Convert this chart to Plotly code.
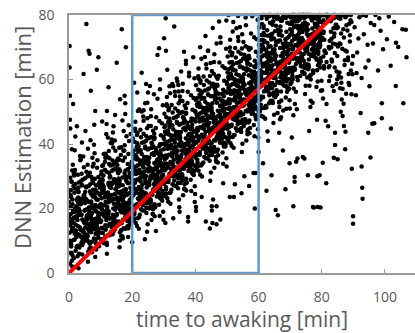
import plotly.graph_objects as go

# ---- axis ticks ----
x_ticks = [0, 20, 40, 60, 80, 100]
y_ticks = [0, 20, 40, 60, 80]

# ---- reference line (DNN estimation == time) ----
fit_x = [0, 84]
fit_y = [0, 80]

# ---- highlighted interval ----
box_x = [20, 60]
box_y = [0, 80]

# ---- scatter samples, first pass, read bin by bin (time 0-5, 5-10, ...) ----
x_a = [0.2,0.5,0.8,1.1,0.3,1.6,2.0,2.4,0.9,3.1,3.5,4.2,4.8,0.4,1.3,2.7,3.9,4.5,1.8,0.6,
       2.2,3.3,4.0,0.1,1.0,2.9,4.6,3.7,1.5,0.7,2.5,4.9,3.0,1.9,0.2,4.3,2.1,3.6,0.9,1.4,
       2.8,4.1,0.5,1.7,3.4,4.7,2.3,0.3,1.2,3.8,2.6,4.4,0.8,1.9,3.2,4.9,0.1,2.0,3.0,4.5,
       1.1,3.5,2.7,4.0,0.6,1.6,3.1,4.2,2.4,0.4]
y_a = [12.5,18.2,6.3,22.8,9.1,15.4,27.6,11.2,3.8,19.9,14.1,8.7,24.3,29.5,16.8,5.2,21.6,13.3,10.4,25.7,
       17.5,7.9,30.8,20.2,13.9,23.4,16.1,35.2,4.6,8.2,12.0,19.3,26.5,31.9,15.7,10.8,6.9,22.1,38.4,18.9,
       14.6,27.1,9.8,24.9,11.7,15.9,20.7,2.9,33.6,18.0,8.4,22.9,28.3,13.0,6.0,12.4,17.1,42.3,25.2,36.1,
       21.3,13.6,16.4,9.5,23.8,30.2,19.0,5.7,11.5,44.8]

x_b = [5.2,5.8,6.3,7.1,7.7,8.4,9.0,9.6,5.5,6.9,8.0,9.3,5.1,6.1,7.4,8.8,9.8,5.9,7.0,8.2,
       9.4,6.6,7.9,5.3,8.6,6.0,9.1,7.3,5.7,8.9,6.4,9.7,7.6,5.0,8.3,6.8,9.2,7.8,5.4,8.5,
       6.2,9.9,7.2,5.6,8.1,6.7,9.5,7.5,5.9,8.7,6.5,9.0,7.0,8.3,5.2,6.0,9.3,7.7,8.9,6.3,
       7.4,5.8,8.4,9.6,6.9,7.9,5.1,9.2,8.0,6.6]
y_b = [14.2,22.5,9.6,18.3,27.9,12.1,20.6,16.3,31.4,7.8,24.1,11.0,19.5,15.1,35.7,8.9,26.4,13.7,21.8,29.2,
       18.6,25.3,10.7,23.0,16.9,38.5,22.7,6.4,17.8,32.6,12.9,28.4,20.1,10.1,14.8,41.2,13.5,33.9,26.8,9.2,
       19.7,24.6,15.6,11.8,37.1,27.5,8.3,23.7,30.0,19.0,17.2,35.0,12.6,21.1,44.0,9.9,29.8,16.0,14.0,22.0,
       28.7,16.6,25.9,20.9,13.2,39.8,25.1,11.9,46.0,31.1]

x_c = [10.2,10.8,11.5,12.1,12.9,13.4,14.2,14.8,10.5,11.9,13.0,14.5,10.1,11.2,12.6,13.8,14.9,11.7,12.3,13.6,
       14.0,10.7,12.8,11.0,14.6,13.2,10.3,12.0,14.3,11.4,13.5,10.9,12.5,14.1,11.8,13.9,10.4,12.2,14.7,11.1,
       13.1,10.6,12.4,14.4,11.6,13.7,10.0,12.7,14.0,11.3,13.3,10.8,12.9,14.8,11.9,13.0,10.2,12.1,14.2,11.5,
       12.6,10.3,13.6,14.9,11.0,12.3,13.8,10.9,14.5,12.8]
y_c = [16.2,24.8,11.3,20.5,29.6,14.7,22.9,18.1,33.2,9.4,26.6,13.8,21.4,17.5,37.8,12.0,28.3,19.2,23.5,31.7,
       20.0,27.4,15.3,25.9,19.6,40.3,23.2,8.7,16.7,34.5,14.1,30.2,21.9,12.9,17.4,43.6,19.8,35.9,26.0,10.6,
       22.3,28.9,18.4,24.4,13.4,27.7,15.8,33.8,38.9,21.0,17.0,25.1,11.7,32.4,46.2,24.0,20.8,14.5,29.1,37.0,
       19.1,31.5,22.6,16.0,26.7,42.0,34.9,18.8,41.1,28.0]

x_d = [15.2,15.8,16.5,17.1,17.9,18.4,19.2,19.8,15.5,16.9,18.0,19.5,15.1,16.2,17.6,18.8,19.9,16.7,17.3,18.6,
       19.0,15.7,17.8,16.0,19.6,18.2,15.3,17.0,19.3,16.4,18.5,15.9,17.5,19.1,16.8,18.9,15.4,17.2,19.7,16.1,
       18.1,15.6,17.4,19.4,16.6,18.7,15.0,17.7,19.0,16.3,18.3,15.8,17.9,19.8,16.9,18.0,15.2,17.1,19.2,16.5,
       17.6,15.3,18.6,19.9,16.0,17.3,18.8,15.9,19.5,17.8]
y_d = [18.3,26.9,13.2,22.4,31.8,16.6,24.7,20.1,35.5,11.4,28.8,15.9,23.5,19.5,39.6,13.9,30.4,21.2,25.6,33.8,
       22.0,29.3,17.3,27.9,21.6,42.4,25.2,10.7,18.7,36.6,16.1,32.2,23.9,14.9,19.4,45.8,21.8,37.9,28.0,12.6,
       24.3,30.9,20.4,26.4,15.4,29.7,17.8,35.8,40.9,23.0,19.0,27.1,13.7,34.4,47.3,26.0,22.8,16.5,31.1,39.0,
       21.1,33.5,24.6,18.0,28.7,44.0,36.9,20.8,43.1,30.0]

x_e = [20.3,20.9,21.4,22.2,22.8,23.5,24.1,24.9,20.6,21.8,23.1,24.4,20.1,21.3,22.5,23.9,24.7,21.6,22.4,23.7,
       24.0,20.7,22.9,21.0,24.6,23.2,20.4,22.0,24.3,21.5,23.6,20.8,22.6,24.1,21.9,23.8,20.5,22.3,24.8,21.2,
       23.1,20.2,22.7,24.5,21.7,23.4,20.0,22.1,24.2,21.1,23.3,20.8,22.9,24.9,21.4,23.0,20.3,22.4,24.6,21.8,
       22.6,20.5,23.6,24.8,21.0,22.3,23.8,20.9,24.4,22.8]
y_e = [27.3,20.9,35.2,17.4,30.8,24.6,38.7,15.1,28.8,33.4,22.2,42.5,19.9,36.1,25.9,31.4,12.8,40.2,23.6,29.9,
       34.0,18.3,26.3,46.9,21.6,27.4,16.2,39.3,24.7,14.6,32.7,26.1,44.4,29.0,37.6,19.4,31.8,22.5,48.0,33.0,
       25.3,41.8,28.4,18.6,35.4,21.0,30.6,13.7,27.8,36.5,23.1,16.9,31.2,38.3,20.5,50.1,24.0,34.8,26.5,17.0,
       29.5,38.0,43.2,32.2,26.0,22.9,36.0,44.7,30.0,19.8]

x_f = [25.2,25.9,26.4,27.1,27.8,28.5,29.1,29.8,25.6,26.8,28.0,29.4,25.1,26.3,27.5,28.8,29.9,26.6,27.3,28.6,
       29.0,25.7,27.9,26.0,29.6,28.2,25.3,27.0,29.3,26.5,28.6,25.8,27.6,29.2,26.9,28.9,25.4,27.2,29.7,26.2,
       28.1,25.2,27.7,29.5,26.7,28.4,25.0,27.1,29.2,26.1,28.3,25.8,27.9,29.9,26.4,28.0,25.3,27.4,29.6,26.8,
       27.6,25.5,28.6,29.8,26.0,27.3,28.8,25.9,29.4,27.8]
y_f = [31.5,24.6,39.1,21.3,34.8,28.2,42.7,19.0,32.6,37.2,26.1,46.4,23.7,40.0,29.8,35.3,16.5,44.1,27.4,33.7,
       38.0,22.0,30.2,50.8,25.4,31.3,20.0,43.2,28.6,18.3,36.6,30.0,48.3,33.0,41.5,23.2,35.7,26.3,52.0,36.9,
       29.2,45.6,32.3,22.4,39.2,24.9,34.5,17.6,31.7,40.4,27.0,20.7,35.1,42.2,24.3,54.0,27.9,38.7,30.4,20.9,
       33.4,41.9,47.1,36.1,29.9,26.8,39.9,48.6,34.0,23.7]

x_g = [30.3,30.8,31.5,32.2,32.9,33.4,34.2,34.8,30.6,31.9,33.0,34.5,30.1,31.2,32.6,33.8,34.9,31.7,32.3,33.6,
       34.1,30.7,32.8,31.0,34.6,33.2,30.4,32.0,34.3,31.4,33.5,30.9,32.5,34.0,31.8,33.9,30.5,32.2,34.7,31.1,
       33.1,30.2,32.7,34.5,31.6,33.3,30.0,32.1,34.2,31.3,33.7,30.8,32.9,34.9,31.5,33.0,30.3,32.4,34.4,31.9,
       32.6,30.5,33.6,34.8,31.0,32.3,33.8,30.9,34.4,32.8]
y_g = [35.2,28.4,43.0,25.1,38.6,32.0,46.5,22.8,36.4,41.0,29.9,50.2,27.6,43.8,33.7,39.1,20.4,47.9,31.2,37.5,
       41.8,25.9,34.0,54.6,29.3,35.1,23.8,47.0,32.5,22.1,40.4,33.9,52.1,36.8,45.3,27.0,39.6,30.1,56.3,40.7,
       33.0,49.4,36.1,26.3,43.0,28.7,38.4,21.5,35.5,44.2,30.8,24.6,38.9,46.0,28.2,58.0,31.8,42.5,34.3,24.8,
       37.2,45.7,51.0,39.9,33.7,30.6,43.8,52.3,37.9,27.5]

x_h = [35.2,35.9,36.4,37.1,37.8,38.5,39.1,39.8,35.6,36.8,38.0,39.4,35.1,36.3,37.5,38.8,39.9,36.6,37.3,38.6,
       39.0,35.7,37.9,36.0,39.6,38.2,35.3,37.0,39.3,36.5,38.6,35.8,37.6,39.2,36.9,38.9,35.4,37.2,39.7,36.2,
       38.1,35.2,37.7,39.5,36.7,38.4,35.0,37.1,39.2,36.1,38.3,35.8,37.9,39.9,36.4,38.0,35.3,37.4,39.6,36.8,
       37.6,35.5,38.6,39.8,36.0,37.3,38.8,35.9,39.4,37.8]
y_h = [39.3,32.5,47.0,29.2,42.7,36.0,50.6,26.9,40.5,45.1,34.0,54.3,31.7,47.9,37.8,43.2,24.5,51.9,35.3,41.6,
       45.9,30.0,38.1,58.7,33.4,39.2,27.9,51.1,36.6,26.2,44.5,38.0,56.2,40.9,49.4,31.1,43.7,34.2,60.4,44.8,
       37.1,53.5,40.2,30.4,47.1,32.8,42.5,25.6,39.6,48.3,34.9,28.7,43.0,50.1,32.3,62.1,35.9,46.6,38.4,28.9,
       41.3,49.8,55.1,44.0,37.8,34.7,47.9,56.4,42.0,31.6]

x_i = [40.3,40.9,41.4,42.2,42.8,43.5,44.1,44.9,40.6,41.8,43.1,44.4,40.1,41.3,42.5,43.9,44.7,41.6,42.4,43.7,
       44.0,40.7,42.9,41.0,44.6,43.2,40.4,42.0,44.3,41.5,43.6,40.8,42.6,44.1,41.9,43.8,40.5,42.3,44.8,41.2,
       43.1,40.2,42.7,44.5,41.7,43.4,40.0,42.1,44.2,41.1,43.3,40.8,42.9,44.9,41.4,43.0,40.3,42.4,44.6,41.8,
       42.6,40.5,43.6,44.8,41.0,42.3,43.8,40.9,44.4,42.8]
y_i = [43.6,36.8,51.5,33.9,47.4,40.3,55.2,31.2,45.0,49.7,38.3,59.1,35.8,52.4,42.1,47.8,28.6,56.5,39.7,46.0,
       50.4,34.3,42.6,63.4,37.7,43.7,32.2,55.8,41.0,30.5,49.0,42.4,60.9,45.3,54.0,35.5,48.2,38.6,65.1,49.3,
       41.5,58.2,44.7,34.8,51.6,37.2,47.0,29.9,44.1,52.9,39.3,33.1,47.5,54.8,36.7,67.0,40.4,51.2,42.8,33.3,
       45.8,54.3,59.7,48.6,42.2,39.1,52.4,61.0,46.5,36.0]

x_j = [45.2,45.9,46.4,47.1,47.8,48.5,49.1,49.8,45.6,46.8,48.0,49.4,45.1,46.3,47.5,48.8,49.9,46.6,47.3,48.6,
       49.0,45.7,47.9,46.0,49.6,48.2,45.3,47.0,49.3,46.5,48.6,45.8,47.6,49.2,46.9,48.9,45.4,47.2,49.7,46.2,
       48.1,45.2,47.7,49.5,46.7,48.4,45.0,47.1,49.2,46.1,48.3,45.8,47.9,49.9,46.4,48.0,45.3,47.4,49.6,46.8,
       47.6,45.5,48.6,49.8,46.0,47.3,48.8,45.9,49.4,47.8]
y_j = [48.1,41.2,55.9,38.3,51.8,44.7,59.6,35.6,49.4,54.1,42.7,63.5,40.2,56.8,46.5,52.2,33.0,60.9,44.1,50.4,
       54.8,38.7,47.0,67.8,42.1,48.1,36.6,60.2,45.4,34.9,53.4,46.8,65.3,49.7,58.4,39.9,52.6,43.0,69.5,53.7,
       45.9,62.6,49.1,39.2,56.0,41.6,51.4,34.3,48.5,57.3,43.7,37.5,51.9,59.2,41.1,71.4,44.8,55.6,47.2,37.7,
       50.2,58.7,64.1,53.0,46.6,43.5,56.8,65.4,50.9,40.4]

x_k = [50.3,50.9,51.4,52.2,52.8,53.5,54.1,54.9,50.6,51.8,53.1,54.4,50.1,51.3,52.5,53.9,54.7,51.6,52.4,53.7,
       54.0,50.7,52.9,51.0,54.6,53.2,50.4,52.0,54.3,51.5,53.6,50.8,52.6,54.1,51.9,53.8,50.5,52.3,54.8,51.2,
       53.1,50.2,52.7,54.5,51.7,53.4,50.0,52.1,54.2,51.1,53.3,50.8,52.9,54.9,51.4,53.0,50.3,52.4,54.6,51.8,
       52.6,50.5,53.6,54.8,51.0,52.3,53.8,50.9,54.4,52.8]
y_k = [52.6,45.7,60.4,42.8,56.3,49.2,64.1,40.1,53.9,58.6,47.2,68.0,44.7,61.3,51.0,56.7,37.5,65.4,48.6,54.9,
       59.3,43.2,51.5,72.3,46.6,52.6,41.1,64.7,49.9,39.4,57.9,51.3,69.8,54.2,62.9,44.4,57.1,47.5,74.0,58.2,
       50.4,67.1,53.6,43.7,60.5,46.1,55.9,38.8,53.0,61.8,48.2,42.0,56.4,63.7,45.6,75.9,49.3,60.1,51.7,42.2,
       54.7,63.2,68.6,57.5,51.1,48.0,61.3,69.9,55.4,44.9]

x_l = [55.2,55.9,56.4,57.1,57.8,58.5,59.1,59.8,55.6,56.8,58.0,59.4,55.1,56.3,57.5,58.8,59.9,56.6,57.3,58.6,
       59.0,55.7,57.9,56.0,59.6,58.2,55.3,57.0,59.3,56.5,58.6,55.8,57.6,59.2,56.9,58.9,55.4,57.2,59.7,56.2,
       58.1,55.2,57.7,59.5,56.7,58.4,55.0,57.1,59.2,56.1,58.3,55.8,57.9,59.9,56.4,58.0,55.3,57.4,59.6,56.8,
       57.6,55.5,58.6,59.8,56.0,57.3,58.8,55.9,59.4,57.8]
y_l = [57.1,50.2,64.9,47.3,60.8,53.7,68.6,44.6,58.4,63.1,51.7,72.5,49.2,65.8,55.5,61.2,42.0,69.9,53.1,59.4,
       63.8,47.7,56.0,76.8,51.1,57.1,45.6,69.2,54.4,43.9,62.4,55.8,74.3,58.7,67.4,48.9,61.6,52.0,78.5,62.7,
       54.9,71.6,58.1,48.2,65.0,50.6,60.4,43.3,57.5,66.3,52.7,46.5,60.9,68.2,50.1,79.6,53.8,64.6,56.2,46.7,
       59.2,67.7,73.1,62.0,55.6,52.5,65.8,79.2,59.9,49.4]

x_m = [60.3,60.9,61.4,62.2,62.8,63.5,64.1,64.9,60.6,61.8,63.1,64.4,60.1,61.3,62.5,63.9,64.7,61.6,62.4,63.7,
       64.0,60.7,62.9,61.0,64.6,63.2,60.4,62.0,64.3,61.5,63.6,60.8,62.6,64.1,61.9,63.8,60.5,62.3,64.8,61.2,
       63.1,60.2,62.7,64.5,61.7,63.4,60.0,62.1,64.2,61.1,63.3,60.8,62.9,64.9,61.4,63.0,60.3,62.4,64.6,61.8,
       62.6,60.5,63.6,64.8,61.0,62.3,63.8,60.9,64.4,62.8]
y_m = [61.6,54.7,69.4,51.8,65.3,58.2,73.1,49.1,62.9,67.6,56.2,77.0,53.7,70.3,60.0,65.7,46.5,74.4,57.6,63.9,
       68.3,52.2,60.5,80.0,55.6,61.6,50.1,73.7,58.9,48.4,66.9,60.3,78.8,63.2,71.9,53.4,66.1,56.5,79.4,67.2,
       59.4,76.1,62.6,52.7,69.5,55.1,64.9,47.8,62.0,70.8,57.2,51.0,65.4,72.7,54.6,80.0,58.3,69.1,60.7,51.2,
       63.7,72.2,77.6,66.5,60.1,57.0,70.3,79.0,64.4,43.9]

x_n = [65.2,65.9,66.4,67.1,67.8,68.5,69.1,69.8,65.6,66.8,68.0,69.4,65.1,66.3,67.5,68.8,69.9,66.6,67.3,68.6,
       69.0,65.7,67.9,66.0,69.6,68.2,65.3,67.0,69.3,66.5,68.6,65.8,67.6,69.2,66.9,68.9,65.4,67.2,69.7,66.2,
       68.1,65.2,67.7,69.5,66.7,68.4,65.0,67.1,69.2,66.1,68.3,65.8,67.9,69.9,66.4,68.0,65.3,67.4,69.6,66.8,
       67.6,65.5,68.6,69.8,66.0,67.3,68.8,65.9,69.4,67.8]
y_n = [66.1,59.2,73.9,56.3,69.8,62.7,77.6,53.6,67.4,72.1,60.7,79.7,58.2,74.8,64.5,70.2,51.0,78.9,62.1,68.4,
       72.8,56.7,65.0,80.0,60.1,66.1,54.6,78.2,63.4,52.9,71.4,64.8,79.3,67.7,76.4,57.9,70.6,61.0,80.0,71.7,
       63.9,79.6,67.1,57.2,74.0,59.6,69.4,48.3,66.5,75.3,61.7,55.5,69.9,77.2,59.1,80.0,62.8,73.6,65.2,47.7,
       68.2,76.7,79.1,71.0,64.6,61.5,74.8,80.0,68.9,50.4]

x_o = [70.3,70.9,71.4,72.2,72.8,73.5,74.1,74.9,70.6,71.8,73.1,74.4,70.1,71.3,72.5,73.9,74.7,71.6,72.4,73.7,
       74.0,70.7,72.9,71.0,74.6,73.2,70.4,72.0,74.3,71.5,73.6,70.8,72.6,74.1,71.9,73.8,70.5,72.3,74.8,71.2,
       73.1,70.2,72.7,74.5,71.7,73.4,70.0,72.1,74.2,71.1,73.3,70.8,72.9,74.9,71.4,73.0,70.3,72.4,74.6,71.8,
       72.6,70.5,73.6,74.8,71.0]
y_o = [70.6,63.7,78.4,60.8,74.3,67.2,79.6,58.1,71.9,76.6,65.2,80.0,62.7,79.3,69.0,74.7,55.5,78.0,66.6,72.9,
       77.3,61.2,69.5,80.0,64.6,70.6,59.1,79.8,67.9,52.4,75.9,69.3,80.0,72.2,79.0,62.4,75.1,65.5,79.5,76.2,
       68.4,79.9,71.6,61.7,78.5,64.1,73.9,50.8,71.0,79.1,66.2,60.0,74.4,79.4,63.6,80.0,67.3,78.1,69.7,56.2,
       72.7,80.0,79.6,75.5,48.9]

x_p = [75.3,75.9,76.4,77.2,77.8,78.5,79.1,79.9,75.6,76.8,78.1,79.4,75.1,76.3,77.5,78.9,79.7,76.6,77.4,78.7,
       79.0,75.7,77.9,76.0,79.6,78.2,75.4,77.0,79.3,76.5,78.6,75.8,77.6,79.2,76.9,78.8,75.5,77.3,79.8,76.2,
       78.1,75.2,77.7,79.5,76.7,78.4,75.0,77.1,79.2,76.1,78.3,75.8,77.9,79.9,76.4]
y_p = [74.1,66.2,79.8,62.8,77.3,70.7,80.0,59.6,75.4,79.1,68.2,80.0,64.7,79.6,71.5,77.7,56.5,80.0,69.1,75.9,
       78.8,63.2,72.5,80.0,66.6,73.6,60.6,79.3,69.9,53.4,77.4,71.3,80.0,74.2,79.5,64.4,77.1,67.5,79.9,61.1,
       70.4,80.0,74.6,63.7,79.0,66.1,76.9,52.8,73.0,79.7,57.7,68.0,76.4,80.0,51.5]

x_q = [80.3,80.9,81.4,82.2,82.8,83.5,84.1,84.9,80.6,81.8,83.1,84.4,80.1,81.3,82.5,83.9,84.7,81.6,82.4,83.7,
       84.0,80.7,82.9,81.0,84.6,83.2,80.4,82.0,84.3,81.5,83.6,80.8,82.6,84.1,81.9,83.8,80.5,82.3,84.8,81.2]
y_q = [77.6,68.7,80.0,63.8,79.3,71.2,80.0,60.1,74.9,79.6,66.2,77.0,56.7,80.0,72.0,79.7,62.5,80.0,69.6,75.9,
       74.3,64.2,78.5,80.0,58.6,65.6,54.1,79.8,70.9,52.4,80.0,72.3,61.0,68.2,79.0,56.4,67.1,59.5,79.5,47.2]

x_r = [85.3,85.9,86.4,87.2,87.8,88.5,89.1,89.9,85.6,86.8,88.1,89.4,85.1,86.3,87.5,88.9,89.7,86.6,87.4,88.7,
       85.8,87.0,88.3,89.2,86.1]
y_r = [79.1,71.0,80.0,64.5,76.8,58.9,78.4,67.3,62.2,75.6,80.0,55.4,70.2,53.8,79.5,73.7,61.6,48.7,69.0,77.3,
       57.3,45.6,66.0,80.0,74.3]

x_s = [90.4,91.2,91.9,92.6,93.3,94.0,94.8,95.5,96.2,97.0,97.8,98.6,99.4,90.8,91.6,92.3,93.8,95.1,96.6,98.2,
       99.0,93.0,94.5,96.0,91.0]
y_s = [76.2,68.4,79.3,60.5,74.0,79.8,65.9,77.5,71.2,80.0,62.8,75.1,69.4,55.1,72.7,49.6,63.7,57.9,76.9,79.0,
       52.6,80.0,70.8,46.3,62.0]

x_t = [100.6,101.8,102.9,104.2,105.5,103.4,106.8,101.2]
y_t = [72.5,64.3,77.8,70.1,75.6,58.0,66.9,79.5]

# ---- scatter samples, second pass over the dense band (time 0-10, 10-20, ...) ----
x_b1 = [0.4,3.7,7.2,1.9,5.5,9.1,2.8,6.4,8.6,4.6, 1.2,4.9,8.1,0.7,6.8,3.1,9.6,2.2,5.9,7.7,
        2.5,6.1,9.3,0.2,4.3,7.9,1.5,5.1,8.9,3.4, 0.9,4.1,7.5,2.9,6.6,9.8,1.7,5.3,8.3,3.9,
        3.0,6.9,0.5,8.5,4.7,1.3,7.0,9.4,2.4,5.7, 1.8,5.0,8.8,3.6,7.4,0.0,6.2,9.0,2.6,4.4,
        7.8,2.1,5.6,9.7,0.8,4.0,6.5,3.3,8.0,1.1, 4.8,8.4,1.6,6.0,9.2,2.7,5.4,0.3,7.3,3.8,
        6.7,0.6,3.5,9.5,2.3,7.6,4.5,8.7,1.4,5.8, 9.9,3.2,6.3,1.0,8.2,4.2,7.1,0.1,5.2,2.0,
        5.4,8.9,2.9,7.0,0.4,4.7,9.3,1.8,6.6,3.6, 0.7,6.9,3.9,8.0,2.2,5.1,9.7,1.2,7.5,4.9,
        3.1,8.6,0.9,5.9,2.5,9.0,4.1,7.2,1.5,6.3]
y_b1 = [14.8,21.3,9.7,26.2,17.1,12.4,30.5,19.6,7.3,23.9, 18.9,11.6,24.7,8.8,15.3,28.1,20.4,13.2,33.6,16.7,
        22.6,6.7,17.9,25.5,12.9,20.8,10.2,29.4,14.1,19.2, 16.0,27.3,13.7,21.9,9.1,18.3,31.2,15.6,23.4,11.1,
        25.1,17.4,20.7,10.4,32.8,13.9,22.2,27.7,8.0,19.8, 12.2,23.1,16.4,35.0,14.6,22.0,26.9,12.8,17.6,29.0,
        20.1,15.0,10.9,24.3,28.4,18.1,7.6,21.4,15.9,5.4, 24.0,19.4,17.2,30.1,11.9,26.0,16.2,10.0,18.7,13.3,
        14.3,23.6,36.3,16.9,20.0,25.8,9.4,22.8,27.0,11.7, 21.0,8.5,18.4,31.8,13.5,16.6,29.8,6.2,22.4,19.0,
        26.5,15.2,12.0,20.5,24.2,10.7,17.7,38.1,14.0,23.0, 9.9,24.6,28.6,14.9,17.0,21.7,12.6,19.9,33.0,15.5,
        18.0,27.2,13.0,11.4,22.9,25.0,40.5,16.1,30.7,20.3]

x_b2 = [10.5,13.8,17.3,11.9,15.6,19.2,12.8,16.5,18.7,14.6, 11.2,14.9,18.1,10.7,16.8,13.1,19.6,12.2,15.9,17.7,
        12.5,16.1,19.3,10.2,14.3,17.9,11.5,15.1,18.9,13.4, 10.9,14.1,17.5,12.9,16.6,19.8,11.7,15.3,18.3,13.9,
        13.0,16.9,10.5,18.5,14.7,11.3,17.0,19.4,12.4,15.7, 11.8,15.0,18.8,13.6,17.4,10.0,16.2,19.0,12.6,14.4,
        17.8,12.1,15.6,19.7,10.8,14.0,16.5,13.3,18.0,11.1, 14.8,18.4,11.6,16.0,19.2,12.7,15.4,10.3,17.3,13.8,
        16.7,10.6,13.5,19.5,12.3,17.6,14.5,18.7,11.4,15.8, 19.9,13.2,16.3,11.0,18.2,14.2,17.1,10.1,15.2,12.0,
        15.4,18.9,12.9,17.0,10.4,14.7,19.3,11.8,16.6,13.6, 10.7,16.9,13.9,18.0,12.2,15.1,19.7,11.2,17.5,14.9,
        13.1,18.6,10.9,15.9,12.5,19.0,14.1,17.2,11.5,16.3]
y_b2 = [19.7,27.8,13.9,31.4,22.1,16.8,35.6,24.4,11.2,28.9, 23.5,15.9,29.8,12.4,20.6,33.3,25.1,17.9,38.8,21.8,
        27.4,10.1,22.7,30.6,17.2,25.9,14.8,34.7,19.0,24.2, 21.0,32.1,18.5,26.8,13.3,23.3,36.4,20.3,28.3,15.7,
        30.0,22.4,25.6,14.5,37.9,18.6,27.2,32.9,11.8,24.9, 16.4,28.0,21.2,40.2,19.4,26.9,31.7,17.3,22.6,34.1,
        25.0,19.8,15.0,29.2,33.5,23.0,11.5,26.4,20.8,9.2, 28.8,24.3,22.1,35.1,16.2,31.0,21.3,14.0,23.6,18.1,
        19.1,28.6,41.4,21.9,25.0,30.9,13.6,27.8,32.0,16.0, 25.9,12.6,23.4,36.9,18.0,21.5,34.8,10.5,27.3,24.0,
        31.5,20.0,16.9,25.4,29.1,14.9,22.6,43.1,18.8,28.0, 13.8,29.6,33.6,19.7,21.9,26.6,17.0,24.8,38.0,20.4,
        22.9,32.2,17.8,15.3,27.9,30.0,45.5,21.1,35.7,25.2]

x_b3 = [20.5,23.8,27.3,21.9,25.6,29.2,22.8,26.5,28.7,24.6, 21.2,24.9,28.1,20.7,26.8,23.1,29.6,22.2,25.9,27.7,
        22.5,26.1,29.3,20.2,24.3,27.9,21.5,25.1,28.9,23.4, 20.9,24.1,27.5,22.9,26.6,29.8,21.7,25.3,28.3,23.9,
        23.0,26.9,20.5,28.5,24.7,21.3,27.0,29.4,22.4,25.7, 21.8,25.0,28.8,23.6,27.4,20.0,26.2,29.0,22.6,24.4,
        27.8,22.1,25.6,29.7,20.8,24.0,26.5,23.3,28.0,21.1, 24.8,28.4,21.6,26.0,29.2,22.7,25.4,20.3,27.3,23.8,
        26.7,20.6,23.5,29.5,22.3,27.6,24.5,28.7,21.4,25.8, 29.9,23.2,26.3,21.0,28.2,24.2,27.1,20.1,25.2,22.0,
        25.4,28.9,22.9,27.0,20.4,24.7,29.3,21.8,26.6,23.6, 20.7,26.9,23.9,28.0,22.2,25.1,29.7,21.2,27.5,24.9,
        23.1,28.6,20.9,25.9,22.5,29.0,24.1,27.2,21.5,26.3]
y_b3 = [26.2,34.9,20.4,38.3,29.0,23.6,42.1,31.5,17.7,36.0, 30.7,22.8,37.1,18.9,27.5,40.4,32.3,24.6,45.6,28.7,
        34.2,16.4,29.9,37.5,24.1,33.0,21.3,41.8,26.2,31.1, 28.0,39.2,25.4,33.7,19.8,30.4,43.5,27.2,35.4,22.3,
        36.9,29.3,32.8,21.2,44.9,25.5,34.1,40.0,18.1,31.8, 23.1,35.0,28.3,47.2,26.4,33.9,38.8,24.2,29.5,41.0,
        32.0,26.7,21.9,36.2,40.6,30.1,18.3,33.3,27.7,15.5, 35.8,31.2,29.0,42.2,23.0,38.1,28.2,20.7,30.5,25.0,
        26.0,35.5,48.5,28.9,32.0,37.9,20.2,34.7,39.1,22.9, 33.0,19.4,30.4,44.0,24.9,28.4,41.9,16.9,34.3,31.0,
        38.6,27.0,23.8,32.4,36.1,21.8,29.6,50.2,25.7,35.0, 20.6,36.6,40.7,26.6,28.8,33.6,23.9,31.8,45.0,27.3,
        29.9,39.3,24.7,22.2,34.9,37.0,52.6,28.0,42.8,32.1]

x_b4 = [30.5,33.8,37.3,31.9,35.6,39.2,32.8,36.5,38.7,34.6, 31.2,34.9,38.1,30.7,36.8,33.1,39.6,32.2,35.9,37.7,
        32.5,36.1,39.3,30.2,34.3,37.9,31.5,35.1,38.9,33.4, 30.9,34.1,37.5,32.9,36.6,39.8,31.7,35.3,38.3,33.9,
        33.0,36.9,30.5,38.5,34.7,31.3,37.0,39.4,32.4,35.7, 31.8,35.0,38.8,33.6,37.4,30.0,36.2,39.0,32.6,34.4,
        37.8,32.1,35.6,39.7,30.8,34.0,36.5,33.3,38.0,31.1, 34.8,38.4,31.6,36.0,39.2,32.7,35.4,30.3,37.3,33.8,
        36.7,30.6,33.5,39.5,32.3,37.6,34.5,38.7,31.4,35.8, 39.9,33.2,36.3,31.0,38.2,34.2,37.1,30.1,35.2,32.0,
        35.4,38.9,32.9,37.0,30.4,34.7,39.3,31.8,36.6,33.6, 30.7,36.9,33.9,38.0,32.2,35.1,39.7,31.2,37.5,34.9,
        33.1,38.6,30.9,35.9,32.5,39.0,34.1,37.2,31.5,36.3]
y_b4 = [33.9,42.6,28.0,46.1,36.7,31.3,49.8,39.2,25.4,43.7, 38.5,30.5,44.9,26.6,35.2,48.1,40.0,32.3,53.3,36.4,
        41.9,24.1,37.6,45.2,31.8,40.7,29.0,49.5,33.9,38.8, 35.7,46.9,33.1,41.4,27.5,38.1,51.2,34.9,43.1,30.0,
        44.6,37.0,40.5,28.9,52.6,33.2,41.8,47.7,25.8,39.5, 30.8,42.7,36.0,54.9,34.1,41.6,46.5,31.9,37.2,48.7,
        39.7,34.4,29.6,43.9,48.3,37.8,26.0,41.0,35.4,23.2, 43.5,38.9,36.7,49.9,30.7,45.8,35.9,28.4,38.2,32.7,
        33.7,43.2,56.2,36.6,39.7,45.6,27.9,42.4,46.8,30.6, 40.7,27.1,38.1,51.7,32.6,36.1,49.6,24.6,42.0,38.7,
        46.3,34.7,31.5,40.1,43.8,29.5,37.3,57.9,33.4,42.7, 28.3,44.3,48.4,34.3,36.5,41.3,31.6,39.5,52.7,35.0,
        37.6,47.0,32.4,29.9,42.6,44.7,60.3,35.7,50.5,39.8]

x_b5 = [40.4,43.9,47.2,41.8,45.7,49.3,42.7,46.4,48.8,44.5, 41.3,44.8,48.2,40.6,46.9,43.0,49.7,42.3,45.8,47.6,
        42.6,46.0,49.4,40.1,44.2,47.8,41.4,45.2,48.9,43.5, 40.8,44.0,47.6,42.8,46.5,49.9,41.6,45.4,48.2,43.8,
        43.1,46.8,40.4,48.6,44.6,41.2,47.1,49.5,42.5,45.6, 41.7,45.1,48.7,43.5,47.5,40.0,46.3,49.1,42.7,44.3,
        47.9,42.0,45.5,49.6,40.9,43.9,46.6,43.2,48.1,41.0, 44.9,48.3,41.5,46.1,49.0,42.8,45.3,40.2,47.4,43.7,
        46.8,40.7,43.4,49.4,42.4,47.7,44.4,48.8,41.3,45.9, 49.8,43.3,46.2,41.1,48.1,44.3,47.0,40.0,45.1,42.1,
        45.5,48.8,42.8,47.1,40.5,44.8,49.2,41.9,46.7,43.4, 40.6,46.8,43.8,48.1,42.1,45.2,49.6,41.3,47.4,44.8,
        43.2,48.5,40.8,45.8,42.6,48.9,44.0,47.3,41.6,46.2]
y_b5 = [42.4,51.1,36.5,54.6,45.2,39.8,58.3,47.7,33.9,52.2, 47.0,39.0,53.4,35.1,43.7,56.6,48.5,40.8,61.8,44.9,
        50.4,32.6,46.1,53.7,40.3,49.2,37.5,58.0,42.4,47.3, 44.2,55.4,41.6,49.9,36.0,46.6,59.7,43.4,51.6,38.5,
        53.1,45.5,49.0,37.4,61.1,41.7,50.3,56.2,34.3,48.0, 39.3,51.2,44.5,63.4,42.6,50.1,55.0,40.4,45.7,57.2,
        48.2,42.9,38.1,52.4,56.8,46.3,34.5,49.5,43.9,31.7, 52.0,47.4,45.2,58.4,39.2,54.3,44.4,36.9,46.7,41.2,
        42.2,51.7,64.7,45.1,48.2,54.1,36.4,50.9,55.3,39.1, 49.2,35.6,46.6,60.2,41.1,44.6,58.1,33.1,50.5,47.2,
        54.8,43.2,40.0,48.6,52.3,38.0,45.8,66.4,41.9,51.2, 36.8,52.8,56.9,42.8,45.0,49.8,40.1,48.0,61.2,43.5,
        46.1,55.5,40.9,38.4,51.1,53.2,68.8,44.2,59.0,48.3]

x_b6 = [50.5,53.8,57.3,51.9,55.6,59.2,52.8,56.5,58.7,54.6, 51.2,54.9,58.1,50.7,56.8,53.1,59.6,52.2,55.9,57.7,
        52.5,56.1,59.3,50.2,54.3,57.9,51.5,55.1,58.9,53.4, 50.9,54.1,57.5,52.9,56.6,59.8,51.7,55.3,58.3,53.9,
        53.0,56.9,50.5,58.5,54.7,51.3,57.0,59.4,52.4,55.7, 51.8,55.0,58.8,53.6,57.4,50.0,56.2,59.0,52.6,54.4,
        57.8,52.1,55.6,59.7,50.8,54.0,56.5,53.3,58.0,51.1, 54.8,58.4,51.6,56.0,59.2,52.7,55.4,50.3,57.3,53.8,
        56.7,50.6,53.5,59.5,52.3,57.6,54.5,58.7,51.4,55.8, 59.9,53.2,56.3,51.0,58.2,54.2,57.1,50.1,55.2,52.0,
        55.4,58.9,52.9,57.0,50.4,54.7,59.3,51.8,56.6,53.6, 50.7,56.9,53.9,58.0,52.2,55.1,59.7,51.2,57.5,54.9,
        53.1,58.6,50.9,55.9,52.5,59.0,54.1,57.2,51.5,56.3]
y_b6 = [50.9,59.6,45.0,63.1,53.7,48.3,66.8,56.2,42.4,60.7, 55.5,47.5,61.9,43.6,52.2,65.1,57.0,49.3,70.3,53.4,
        58.9,41.1,54.6,62.2,48.8,57.7,46.0,66.5,50.9,55.8, 52.7,63.9,50.1,58.4,44.5,55.1,68.2,51.9,60.1,47.0,
        61.6,54.0,57.5,45.9,69.6,50.2,58.8,64.7,42.8,56.5, 47.8,59.7,53.0,71.9,51.1,58.6,63.5,48.9,54.2,65.7,
        56.7,51.4,46.6,60.9,65.3,54.8,43.0,58.0,52.4,40.2, 60.5,55.9,53.7,66.9,47.7,62.8,52.9,45.4,55.2,49.7,
        50.7,60.2,73.2,53.6,56.7,62.6,44.9,59.4,63.8,47.6, 57.7,44.1,55.1,68.7,49.6,53.1,66.6,41.6,59.0,55.7,
        63.3,51.7,48.5,57.1,60.8,46.5,54.3,74.9,50.4,59.7, 45.3,61.3,65.4,51.3,53.5,58.3,48.6,56.5,69.7,52.0,
        54.6,64.0,49.4,46.9,59.6,61.7,76.3,52.7,67.5,56.8]

x_b7 = [60.4,63.9,67.2,61.8,65.7,69.3,62.7,66.4,68.8,64.5, 61.3,64.8,68.2,60.6,66.9,63.0,69.7,62.3,65.8,67.6,
        62.6,66.0,69.4,60.1,64.2,67.8,61.4,65.2,68.9,63.5, 60.8,64.0,67.6,62.8,66.5,69.9,61.6,65.4,68.2,63.8,
        63.1,66.8,60.4,68.6,64.6,61.2,67.1,69.5,62.5,65.6, 61.7,65.1,68.7,63.5,67.5,60.0,66.3,69.1,62.7,64.3,
        67.9,62.0,65.5,69.6,60.9,63.9,66.6,63.2,68.1,61.0, 64.9,68.3,61.5,66.1,69.0,62.8,65.3,60.2,67.4,63.7,
        66.8,60.7,63.4,69.4,62.4,67.7,64.4,68.8,61.3,65.9, 69.8,63.3,66.2,61.1,68.1,64.3,67.0,60.0,65.1,62.1,
        65.5,68.8,62.8,67.1,60.5,64.8,69.2,61.9,66.7,63.4, 60.6,66.8,63.8,68.1,62.1,65.2,69.6,61.3,67.4,64.8,
        63.2,68.5,60.8,65.8,62.6,68.9,64.0,67.3,61.6,66.2]
y_b7 = [59.4,68.1,53.5,71.6,62.2,56.8,75.3,64.7,50.9,69.2, 64.0,56.0,70.4,52.1,60.7,73.6,65.5,57.8,78.8,61.9,
        67.4,49.6,63.1,70.7,57.3,66.2,54.5,75.0,59.4,64.3, 61.2,72.4,58.6,66.9,53.0,63.6,76.7,60.4,68.6,55.5,
        70.1,62.5,66.0,54.4,78.1,58.7,67.3,73.2,51.3,65.0, 56.3,68.2,61.5,80.0,59.6,67.1,72.0,57.4,62.7,74.2,
        65.2,59.9,55.1,69.4,73.8,63.3,51.5,66.5,60.9,48.7, 69.0,64.4,62.2,75.4,56.2,71.3,61.4,53.9,63.7,58.2,
        59.2,68.7,79.6,62.1,65.2,71.1,53.4,67.9,72.3,56.1, 66.2,52.6,63.6,77.2,58.1,61.6,75.1,50.1,67.5,64.2,
        71.8,60.2,57.0,65.6,69.3,55.0,62.8,80.0,58.9,68.2, 53.8,69.8,73.9,59.8,62.0,66.8,57.1,65.0,78.2,60.5,
        63.1,72.5,57.9,55.4,68.1,70.2,80.0,61.2,76.0,65.3]

x_b8 = [70.5,73.8,77.3,71.9,75.6,79.2,72.8,76.5,78.7,74.6, 71.2,74.9,78.1,70.7,76.8,73.1,79.6,72.2,75.9,77.7,
        72.5,76.1,79.3,70.2,74.3,77.9,71.5,75.1,78.9,73.4, 70.9,74.1,77.5,72.9,76.6,79.8,71.7,75.3,78.3,73.9,
        73.0,76.9,70.5,78.5,74.7,71.3,77.0,79.4,72.4,75.7, 71.8,75.0,78.8,73.6,77.4,70.0,76.2,79.0,72.6,74.4,
        77.8,72.1,75.6,79.7,70.8,74.0,76.5,73.3,78.0,71.1, 74.8,78.4,71.6,76.0,79.2,72.7,75.4,70.3,77.3,73.8,
        76.7,70.6,73.5,79.5,72.3,77.6,74.5,78.7,71.4,75.8, 79.9,73.2,76.3,71.0,78.2,74.2,77.1,70.1,75.2,72.0,
        75.4,78.9,72.9,77.0,70.4,74.7,79.3,71.8,76.6,73.6, 70.7,76.9,73.9,78.0,72.2,75.1,79.7,71.2,77.5,74.9,
        73.1,78.6,70.9,75.9,72.5,79.0,74.1,77.2,71.5,76.3]
y_b8 = [67.9,76.6,62.0,79.1,70.7,65.3,80.0,73.2,59.4,77.7, 72.5,64.5,78.9,60.6,69.2,79.6,74.0,66.3,80.0,70.4,
        75.9,58.1,71.6,79.2,65.8,74.7,63.0,80.0,67.9,72.8, 69.7,80.0,67.1,75.4,61.5,72.1,79.8,68.9,77.1,64.0,
        78.6,71.0,74.5,62.9,80.0,67.2,75.8,79.7,59.8,73.5, 64.8,76.7,70.0,80.0,68.1,75.6,79.5,65.9,71.2,79.0,
        73.7,68.4,63.6,77.9,80.0,71.8,60.0,75.0,69.4,57.2, 77.5,72.9,70.7,80.0,64.7,79.8,69.9,62.4,72.2,66.7,
        67.7,77.2,80.0,70.6,73.7,79.6,61.9,76.4,80.0,64.6, 74.7,61.1,72.1,80.0,66.6,70.1,79.3,58.6,76.0,72.7,
        80.0,68.7,65.5,74.1,77.8,63.5,71.3,80.0,67.4,76.7, 62.3,78.3,80.0,68.3,70.5,75.3,65.6,73.5,79.9,69.0,
        71.6,79.4,66.4,63.9,76.6,78.7,80.0,69.7,79.2,73.8]

x_b9 = [80.5,83.8,87.3,81.9,85.6,89.2,82.8,86.5,88.7,84.6, 81.2,84.9,88.1,80.7,86.8,83.1,89.6,82.2,85.9,87.7,
        82.5,86.1,80.2,84.3,87.9,81.5,85.1,88.9,83.4,80.9, 84.1,87.5,82.9,86.6,81.7,85.3,88.3,83.9,80.5,86.9,
        83.0,80.5,88.5,84.7,81.3,87.0,89.4,82.4,85.7,86.2]
y_b9 = [74.4,79.0,66.0,80.0,71.2,62.8,78.1,69.5,58.3,76.9, 77.6,67.3,75.2,63.4,80.0,72.6,64.9,70.1,78.8,55.6,
        79.5,60.6,72.9,80.0,68.7,65.4,76.2,71.8,57.9,69.0, 63.7,79.3,74.8,57.1,80.0,61.2,66.8,73.3,78.4,52.5,
        70.0,79.9,61.7,75.9,68.2,73.0,77.8,64.2,80.0,59.0]

# sparse points above the main band
x_high = [0.2,0.2,0.3,0.3,1.3,4.6,5.5,6.2,6.5,6.9,8.3,8.8,9.3,12.0,12.5,14.6,15.1,16.2,16.7,17.6,
          17.8,17.8,18.0,2.5,10.5,20.6,21.6,22.2,23.0,23.6,24.4,24.8,25.0,25.6,26.9,28.0,28.5,28.8,28.8,30.1,
          30.6,30.7,31.1,32.0,32.7,33.3,34.3,34.6,35.1,36.4,37.0,37.0,39.3,35.5,38.0,43.2,44.0,46.7,47.9,47.5,
          49.8,52.0,41.5,45.5,50.5,53.5,56.0,58.0,61.5,63.5]
y_high = [70.4,63.7,55.0,47.5,52.4,61.7,77.2,68.9,68.0,56.5,50.2,63.0,66.9,50.2,57.6,49.0,65.2,53.9,75.6,55.0,
          52.6,49.3,70.0,45.5,47.0,59.0,56.0,50.7,62.1,50.5,58.6,52.8,56.0,58.0,55.4,67.6,69.7,60.0,57.0,72.8,
          79.0,68.9,63.0,55.7,58.6,76.4,59.4,58.3,54.7,68.6,65.8,64.8,66.9,62.5,61.0,73.5,69.0,71.2,73.1,78.0,
          78.3,77.8,70.0,76.0,80.0,79.7,80.0,80.0,80.0,80.0]

# sparse points below the main band
x_low = [58.8,65.4,66.1,71.0,77.5,79.6,89.9,89.9,92.8,92.9,89.5,92.6,95.4,81.4,79.3,78.6,75.6,71.4,71.4,64.1,
         80.3,83.8,85.0,84.2,87.4,84.2,87.5,94.7,72.3,74.5,74.0,67.7,61.4,58.4,59.0,39.8,40.2,40.2,37.7,37.7,
         43.3,44.6,45.4,46.7,47.9,45.2,45.2,46.7,45.6,42.0,50.9,52.2,54.6,48.8,52.5,69.8,71.9,77.2,78.7,96.6,
         99.0,101.9,105.8,103.5,106.6,55.5,57.0,62.5,68.5,60.0,63.0,66.5,70.5,76.0,82.0,86.0,78.5,8.3,12.0,16.0,
         20.0,24.0,27.5,30.5,33.0,35.0,3.0,1.0,6.0]
y_low = [20.0,19.5,17.9,20.7,20.3,20.3,17.6,15.3,26.4,23.0,32.3,33.0,35.8,27.8,30.3,30.0,30.3,29.8,28.3,30.3,
         34.2,35.7,35.3,39.7,38.4,43.5,43.8,43.5,35.5,35.5,36.0,38.0,34.0,31.0,31.0,22.0,20.5,19.2,17.4,16.0,
         16.0,13.8,15.5,15.1,16.6,20.7,19.4,20.7,22.8,23.6,23.6,23.6,24.7,27.8,27.5,34.0,34.5,20.5,20.5,46.4,
         48.0,44.8,52.6,71.4,75.4,30.0,27.0,25.5,26.0,37.5,41.0,43.5,42.0,44.0,45.5,50.0,47.5,5.0,6.0,8.0,
         9.5,10.5,13.0,15.5,17.0,19.0,1.5,2.0,3.5]

bins_x = [x_a, x_b, x_c, x_d, x_e, x_f, x_g, x_h, x_i, x_j, x_k, x_l, x_m, x_n, x_o, x_p, x_q, x_r, x_s, x_t,
          x_b1, x_b2, x_b3, x_b4, x_b5, x_b6, x_b7, x_b8, x_b9, x_high, x_low]
bins_y = [y_a, y_b, y_c, y_d, y_e, y_f, y_g, y_h, y_i, y_j, y_k, y_l, y_m, y_n, y_o, y_p, y_q, y_r, y_s, y_t,
          y_b1, y_b2, y_b3, y_b4, y_b5, y_b6, y_b7, y_b8, y_b9, y_high, y_low]

pts_x, pts_y = [], []
for bx, by in zip(bins_x, bins_y):
    for a, b in zip(bx, by):
        pts_x.append(a)
        pts_y.append(b)

fig = go.Figure()
fig.add_trace(go.Scatter(x=pts_x, y=pts_y, mode="markers",
                         marker=dict(color="black", size=4.5, line=dict(width=0)),
                         showlegend=False, hoverinfo="skip", cliponaxis=False))
fig.add_trace(go.Scatter(x=fit_x, y=fit_y, mode="lines",
                         line=dict(color="#ff0000", width=4), showlegend=False,
                         cliponaxis=False, hoverinfo="skip"))
fig.add_shape(type="rect", x0=box_x[0], x1=box_x[1], y0=box_y[0], y1=box_y[1],
              xref="x", yref="y", line=dict(color="#5b9bd5", width=2.5), layer="above")

# y-axis title placed as a rotated annotation just left of the tick labels
fig.add_annotation(text="DNN Estimation [min]", xref="paper", yref="paper", x=0, y=0.5,
                   xanchor="center", yanchor="middle", xshift=-47, yshift=6, textangle=-90,
                   showarrow=False, font=dict(size=22, color="#595959"))

font_family = "'Open Sans', sans-serif"
fig.update_layout(
    width=415, height=333,
    margin=dict(l=69, r=0, t=15, b=60),
    paper_bgcolor="white", plot_bgcolor="white",
    font=dict(family=font_family, color="#595959"),
    hovermode=False,
    xaxis=dict(range=[0, 109.5], tickvals=x_ticks, showgrid=False, zeroline=False,
               showline=True, linecolor="#9a9a9a", linewidth=1.5, mirror=True,
               ticks="inside", ticklen=4, tickcolor="#9a9a9a", automargin=False,
               ticklabelstandoff=10, ticklabeloverflow="allow",
               tickfont=dict(size=14, color="#595959"),
               title=dict(text="time to awaking [min]", font=dict(size=21, color="#595959"), standoff=4)),
    yaxis=dict(range=[0, 80], tickvals=y_ticks, showgrid=False, zeroline=False,
               showline=True, linecolor="#9a9a9a", linewidth=1.5,
               ticks="inside", ticklen=4, tickcolor="#9a9a9a", automargin=False,
               ticklabelstandoff=10, ticklabeloverflow="allow",
               tickfont=dict(size=14, color="#595959")),
)
# remove the page's default 8 px body margin so the figure fills the window exactly
fig.write_html("out.html", config={"displayModeBar": False},
               post_script="document.body.style.margin='0';")
